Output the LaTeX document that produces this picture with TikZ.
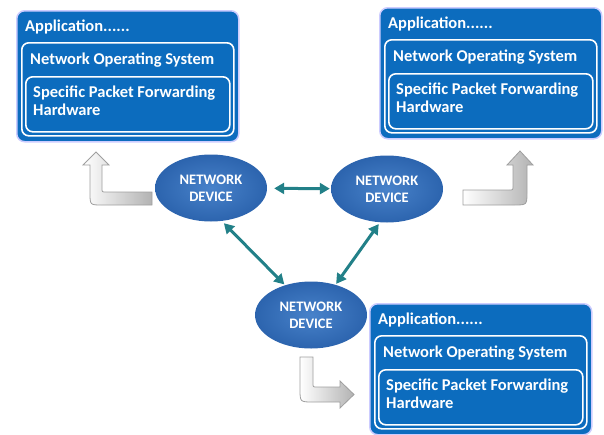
\documentclass[tikz,border=0pt]{standalone}
\usepackage{fontspec}
\setmainfont{Carlito}
\usepackage{tikz}
\usetikzlibrary{shapes.geometric,arrows.meta,positioning,calc}

\definecolor{boxblue}{RGB}{12,108,190}
\definecolor{devblue}{RGB}{72,130,202}
\definecolor{devdark}{RGB}{44,100,174}
\definecolor{linkteal}{RGB}{34,128,136}

\begin{document}
\begin{tikzpicture}[
    x=1pt, y=-1pt,
    outer/.style={rectangle, rounded corners=8pt, draw=blue!20!white, line width=1.5pt, fill=boxblue, minimum width=222pt, minimum height=131pt, anchor=north west, inner sep=0pt},
    layer/.style={rectangle, rounded corners=7pt, draw=white, line width=1.6pt, inner sep=0pt},
    lbl/.style={anchor=base west, text=white, font=\fontsize{16.5}{18}\selectfont\bfseries, inner sep=0pt},
    device/.style={ellipse, inner color=devblue, outer color=devdark, minimum width=112pt, minimum height=67pt, align=center, text=white, font=\fontsize{14.5}{17}\selectfont\bfseries},
    link/.style={{Triangle[length=10pt,width=11pt]}-{Triangle[length=10pt,width=11pt]}, line width=3pt, draw=linkteal},
    bentarrow/.style={draw=gray!75, line width=0.8pt, left color=white, right color=gray!60}
]
\useasboundingbox (0,0) rectangle (604,434);

% top left stack
\node[outer] (app1) at (16,10) {};
\node[layer, minimum width=212pt, minimum height=93pt, below right=32pt and 5pt of app1.north west] (nos1) {};
\node[layer, minimum width=204pt, minimum height=55pt, below right=66pt and 9pt of app1.north west] (hw1) {};
\node[lbl] (t1) at ($(app1.north west)+(9,21)$) {Application......};
\node[lbl] (n1) at ($(app1.north west)+(14,54)$) {Network Operating System};
\node[lbl, align=left] (h1) at ($(app1.north west)+(17,105)$) {Specific Packet  Forwarding\\Hardware};

% top right stack
\node[outer] (app2) at (379,7) {};
\node[layer, minimum width=212pt, minimum height=93pt, below right=32pt and 5pt of app2.north west] (nos2) {};
\node[layer, minimum width=204pt, minimum height=55pt, below right=66pt and 9pt of app2.north west] (hw2) {};
\node[lbl] (t2) at ($(app2.north west)+(9,21)$) {Application......};
\node[lbl] (n2) at ($(app2.north west)+(14,54)$) {Network Operating System};
\node[lbl, align=left] (h2) at ($(app2.north west)+(17,105)$) {Specific Packet  Forwarding\\Hardware};

% bottom stack
\node[outer] (app3) at (369,303) {};
\node[layer, minimum width=212pt, minimum height=93pt, below right=32pt and 5pt of app3.north west] (nos3) {};
\node[layer, minimum width=204pt, minimum height=55pt, below right=66pt and 9pt of app3.north west] (hw3) {};
\node[lbl] (t3) at ($(app3.north west)+(9,21)$) {Application......};
\node[lbl] (n3) at ($(app3.north west)+(14,54)$) {Network Operating System};
\node[lbl, align=left] (h3) at ($(app3.north west)+(17,105)$) {Specific Packet  Forwarding\\Hardware};

% devices
\node[device] (dev1) at (211,188) {NETWORK\\DEVICE};
\node[device] (dev2) at (387,189) {NETWORK\\DEVICE};
\node[device] (dev3) at (311,315) {NETWORK\\DEVICE};

\draw[link, shorten <=7pt, shorten >=1pt] (dev1) -- (dev2);
\draw[link, shorten <=3pt, shorten >=1pt] (dev1.-72) -- (dev3.131);
\draw[link, shorten <=2pt, shorten >=1pt] (dev2.-102) -- (dev3.51);

% bent arrows up to the stacks
\draw[bentarrow] (152,192) -- (106,192) .. controls (102,192) .. (102,188) -- (102,165) -- (109,165)
    -- (96,152) -- (83,165) -- (90,165) -- (90,193) .. controls (90,205) .. (102,205) -- (152,205) -- cycle;
\draw[bentarrow] (463,190) -- (509,190) .. controls (513,190) .. (513,186) -- (513,165) -- (507,165)
    -- (520,151) -- (533,165) -- (527,165) -- (527,192) .. controls (527,205) .. (514,205) -- (463,205) -- cycle;
\draw[bentarrow] (300,357) -- (313,357) -- (313,383) .. controls (313,387) .. (317,387) -- (340,387) -- (340,381)
    -- (354,394.5) -- (340,408) -- (340,402) -- (313,402) .. controls (300,402) .. (300,389) -- cycle;
\end{tikzpicture}
\end{document}
